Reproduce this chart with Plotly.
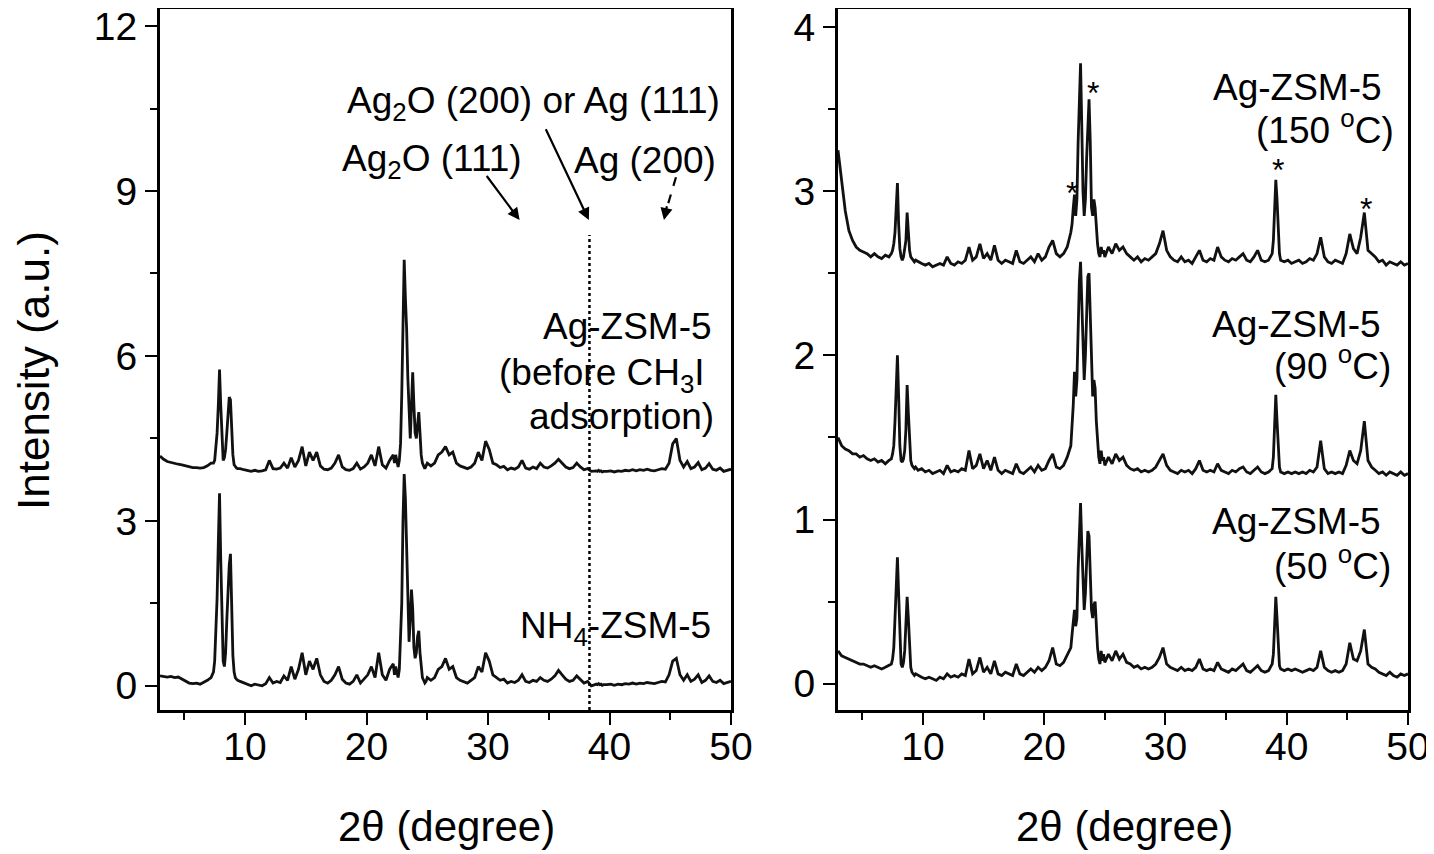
import plotly.graph_objects as go

# ---------------- data ----------------
two_theta = [
    3.0, 3.3, 3.6, 3.9, 4.2, 4.5, 4.8, 5.1, 5.4, 5.7, 6.0, 6.3, 6.6, 6.9, 7.2,
    7.4, 7.5, 7.6, 7.7, 7.8, 7.9, 8.0, 8.1, 8.2, 8.3, 8.4, 8.5, 8.6, 8.7, 8.8, 8.9, 9.0, 9.1, 9.2, 9.3, 9.4,
    9.6, 9.9, 10.2, 10.5, 10.8, 11.1, 11.4, 11.7, 12.0, 12.3, 12.6, 12.9, 13.2, 13.5, 13.8, 14.1, 14.4, 14.7, 15.0, 15.3,
    15.6, 15.9, 16.2, 16.5, 16.8, 17.1, 17.4, 17.7, 18.0, 18.3, 18.6, 18.9, 19.2, 19.5, 19.8, 20.1, 20.4, 20.7, 21.0, 21.3,
    21.6, 21.9, 22.2,
    22.3, 22.4, 22.5, 22.6, 22.7, 22.8, 22.9, 23.0, 23.1, 23.2, 23.3, 23.4, 23.5, 23.6, 23.7, 23.8, 23.9, 24.0, 24.1, 24.2,
    24.3, 24.4, 24.5, 24.6, 24.7, 24.8, 24.9, 25.0,
    25.3, 25.6, 25.9, 26.2, 26.5, 26.8, 27.1, 27.4, 27.7, 28.0, 28.3, 28.6, 28.9, 29.2, 29.5, 29.8, 30.1, 30.4, 30.7, 31.0,
    31.3, 31.6, 31.9, 32.2, 32.5, 32.8, 33.1, 33.4, 33.7, 34.0, 34.3, 34.6, 34.9, 35.2, 35.5, 35.8, 36.1, 36.4, 36.7, 37.0,
    37.3, 37.6, 37.9, 38.2, 38.5, 38.8,
    38.9, 39.0, 39.1, 39.2, 39.3, 39.4, 39.5,
    39.8, 40.1, 40.4, 40.7, 41.0, 41.3, 41.6, 41.9, 42.2, 42.5, 42.8, 43.1, 43.4, 43.7, 44.0, 44.3, 44.6, 44.9, 45.2, 45.5,
    45.8, 46.1, 46.4, 46.7, 47.0, 47.3, 47.6, 47.9, 48.2, 48.5, 48.8, 49.1, 49.4, 49.7, 50.0,
]

nh4_zsm5 = [
    0.18, 0.17, 0.16, 0.17, 0.15, 0.16, 0.12, 0.08, 0.05, 0.04, 0.05, 0.03, 0.06, 0.10, 0.15,
    0.25, 0.45, 0.9, 1.6, 2.6, 3.5, 2.3, 1.0, 0.45, 0.35, 0.6, 1.2, 1.9, 2.2, 2.4, 1.3, 0.55, 0.25, 0.15, 0.12, 0.10,
    0.08, 0.05, 0.02, 0.00, 0.03, 0.01, 0.00, 0.04, 0.15, 0.05, 0.08, 0.06, 0.18, 0.10, 0.35, 0.12, 0.30, 0.60, 0.20, 0.45,
    0.30, 0.50, 0.20, 0.08, 0.05, 0.10, 0.20, 0.35, 0.12, 0.05, 0.03, 0.08, 0.20, 0.05, 0.12, 0.20, 0.35, 0.15, 0.60, 0.20,
    0.10, 0.30, 0.40,
    0.20, 0.35, 0.25, 0.15, 0.30, 0.90, 1.50, 3.00, 3.85, 3.40, 2.60, 1.40, 0.80, 1.20, 1.75, 1.40, 0.70, 0.50, 0.60, 0.90,
    1.00, 0.60, 0.30, 0.15, 0.10, 0.05, 0.08, 0.15,
    0.10, 0.15, 0.30, 0.35, 0.50, 0.30, 0.35, 0.15, 0.10, 0.08, 0.05, 0.10, 0.15, 0.35, 0.25, 0.60, 0.45, 0.20, 0.15, 0.10,
    0.12, 0.05, 0.08, 0.06, 0.10, 0.20, 0.08, 0.06, 0.10, 0.08, 0.15, 0.10, 0.08, 0.12, 0.18, 0.28, 0.20, 0.12, 0.08, 0.10,
    0.18, 0.12, 0.05, 0.08, 0.00, 0.02,
    0.03, 0.02, 0.04, 0.02, 0.03, 0.01, 0.02,
    0.02, 0.03, 0.01, 0.03, 0.02, 0.04, 0.03, 0.05, 0.03, 0.05, 0.04, 0.06, 0.05, 0.04, 0.06, 0.08, 0.07, 0.20, 0.45, 0.50,
    0.20, 0.10, 0.20, 0.08, 0.12, 0.20, 0.06, 0.10, 0.18, 0.08, 0.06, 0.10, 0.04, 0.06, 0.08,
]

ag_before = [
    4.18, 4.12, 4.08, 4.06, 4.05, 4.03, 4.02, 4.00, 3.98, 3.97, 3.97, 3.96, 3.97, 4.00, 4.05,
    4.05, 4.10, 4.30, 4.60, 5.10, 5.75, 5.10, 4.40, 4.10, 4.15, 4.30, 4.60, 5.00, 5.25, 5.20, 4.60, 4.20, 4.02, 3.98, 3.96, 3.95,
    3.95, 3.93, 3.92, 3.90, 3.92, 3.90, 3.91, 3.93, 4.10, 3.95, 3.94, 3.96, 4.05, 3.96, 4.15, 3.98, 4.10, 4.35, 4.00, 4.25,
    4.10, 4.25, 4.00, 3.94, 3.93, 3.96, 4.05, 4.20, 3.98, 3.93, 3.92, 3.95, 4.05, 3.94, 3.98, 4.05, 4.20, 4.00, 4.35, 4.02,
    3.96, 4.10, 4.20,
    4.05, 4.20, 4.05, 3.98, 4.10, 4.40, 5.30, 6.60, 7.75, 7.05, 6.50, 5.60, 5.00, 4.50, 5.10, 5.70, 5.10, 4.60, 4.50, 4.80,
    4.98, 4.60, 4.20, 4.05, 3.98, 3.95, 4.00, 4.05,
    4.00, 4.05, 4.20, 4.25, 4.35, 4.20, 4.25, 4.05, 4.00, 3.97, 3.95, 3.98, 4.05, 4.25, 4.10, 4.45, 4.30, 4.05, 4.02, 3.97,
    3.99, 3.93, 3.96, 3.94, 3.98, 4.10, 3.96, 3.94, 3.98, 3.95, 4.05, 3.98, 3.96, 4.00, 4.05, 4.12, 4.05, 3.98, 3.95, 3.97,
    4.05, 3.98, 3.93, 3.95, 3.90, 3.91,
    3.91, 3.90, 3.92, 3.90, 3.91, 3.89, 3.90,
    3.90, 3.91, 3.89, 3.91, 3.90, 3.92, 3.91, 3.93, 3.91, 3.93, 3.92, 3.94, 3.92, 3.91, 3.93, 3.95, 3.94, 4.05, 4.40, 4.50,
    4.10, 3.98, 4.08, 3.95, 3.98, 4.06, 3.93, 3.96, 4.04, 3.94, 3.92, 3.96, 3.90, 3.92, 3.94,
]

ag_150 = [
    3.25, 3.05, 2.88, 2.76, 2.70, 2.66, 2.64, 2.63, 2.62, 2.60, 2.62, 2.60, 2.59, 2.61, 2.60,
    2.62, 2.64, 2.68, 2.75, 2.90, 3.05, 2.80, 2.65, 2.60, 2.58, 2.60, 2.64, 2.70, 2.87, 2.75, 2.64, 2.60, 2.59, 2.58, 2.57, 2.58,
    2.57, 2.56, 2.55, 2.56, 2.54, 2.55, 2.56, 2.55, 2.60, 2.56, 2.55, 2.57, 2.56, 2.58, 2.66, 2.58, 2.60, 2.68, 2.59, 2.62,
    2.58, 2.67, 2.58, 2.56, 2.58, 2.57, 2.56, 2.64, 2.57, 2.56, 2.58, 2.60, 2.57, 2.62, 2.58, 2.60, 2.66, 2.70, 2.62, 2.60,
    2.62, 2.66, 2.75,
    2.80, 2.90, 2.98, 2.85, 2.95, 3.30, 3.55, 3.78, 3.40, 3.00, 2.85, 2.95, 3.20, 3.45, 3.56, 3.30, 2.90, 2.85, 2.95, 2.90,
    2.75, 2.68, 2.62, 2.60, 2.66, 2.62, 2.64, 2.60,
    2.66, 2.62, 2.68, 2.64, 2.66, 2.62, 2.60, 2.58, 2.60, 2.57, 2.59, 2.58, 2.60, 2.62, 2.68, 2.76, 2.64, 2.60, 2.58, 2.57,
    2.60, 2.57, 2.58, 2.56, 2.60, 2.64, 2.58, 2.57, 2.59, 2.58, 2.66, 2.60, 2.58, 2.57, 2.59, 2.58, 2.60, 2.62, 2.58, 2.57,
    2.60, 2.64, 2.58, 2.57, 2.58, 2.62,
    2.70, 2.85, 3.07, 2.95, 2.72, 2.62, 2.58,
    2.57, 2.58, 2.56, 2.57, 2.58, 2.56, 2.57, 2.59, 2.58, 2.62, 2.72, 2.60, 2.57, 2.56, 2.58, 2.57, 2.56, 2.62, 2.74, 2.65,
    2.62, 2.72, 2.87, 2.64, 2.62, 2.60, 2.57, 2.58, 2.55, 2.57, 2.56, 2.55, 2.57, 2.55, 2.56,
]

ag_90 = [
    1.50, 1.45, 1.43, 1.42, 1.40, 1.40, 1.38, 1.39, 1.37, 1.36, 1.37, 1.35, 1.36, 1.34, 1.36,
    1.37, 1.40, 1.45, 1.60, 1.82, 2.00, 1.75, 1.45, 1.36, 1.35, 1.37, 1.42, 1.55, 1.82, 1.65, 1.45, 1.36, 1.33, 1.32, 1.31, 1.32,
    1.30, 1.31, 1.29, 1.30, 1.28, 1.29, 1.30, 1.28, 1.33, 1.29, 1.30, 1.29, 1.31, 1.30, 1.42, 1.31, 1.33, 1.40, 1.31, 1.36,
    1.30, 1.38, 1.30, 1.28, 1.30, 1.29, 1.28, 1.34, 1.29, 1.28, 1.30, 1.32, 1.29, 1.33, 1.30, 1.31, 1.36, 1.40, 1.32, 1.31,
    1.33, 1.38, 1.45,
    1.55, 1.70, 1.90, 1.75, 1.85, 2.20, 2.45, 2.57, 2.30, 2.05, 1.85, 2.00, 2.30, 2.48, 2.50, 2.20, 1.90, 1.75, 1.85, 1.80,
    1.60, 1.45, 1.38, 1.34, 1.42, 1.36, 1.38, 1.33,
    1.38, 1.34, 1.40, 1.36, 1.38, 1.33, 1.31, 1.30, 1.31, 1.29, 1.30, 1.29, 1.30, 1.32, 1.36, 1.40, 1.33, 1.30, 1.29, 1.28,
    1.30, 1.29, 1.30, 1.28, 1.31, 1.36, 1.30, 1.29, 1.30, 1.29, 1.34, 1.30, 1.29, 1.28, 1.30, 1.29, 1.31, 1.32, 1.29, 1.28,
    1.30, 1.32, 1.29, 1.28, 1.29, 1.31,
    1.38, 1.55, 1.76, 1.60, 1.40, 1.32, 1.29,
    1.28, 1.29, 1.28, 1.29, 1.28, 1.29, 1.28, 1.30, 1.29, 1.32, 1.48, 1.31, 1.28, 1.29, 1.28, 1.29, 1.28, 1.33, 1.42, 1.36,
    1.34, 1.42, 1.60, 1.36, 1.32, 1.30, 1.28, 1.29, 1.27, 1.29, 1.28, 1.27, 1.29, 1.27, 1.28,
]

ag_50 = [
    0.20, 0.17, 0.16, 0.15, 0.14, 0.13, 0.12, 0.12, 0.11, 0.10, 0.11, 0.10, 0.09, 0.10, 0.11,
    0.12, 0.15, 0.22, 0.40, 0.62, 0.77, 0.55, 0.25, 0.12, 0.10, 0.13, 0.20, 0.35, 0.53, 0.40, 0.20, 0.10, 0.07, 0.06, 0.05, 0.06,
    0.05, 0.04, 0.03, 0.04, 0.03, 0.02, 0.04, 0.03, 0.06, 0.04, 0.05, 0.04, 0.06, 0.05, 0.15, 0.06, 0.08, 0.16, 0.07, 0.10,
    0.06, 0.14, 0.06, 0.05, 0.07, 0.06, 0.05, 0.12, 0.06, 0.05, 0.07, 0.09, 0.07, 0.10, 0.08, 0.10, 0.14, 0.22, 0.12, 0.11,
    0.13, 0.18, 0.22,
    0.30, 0.38, 0.45, 0.35, 0.40, 0.70, 0.95, 1.10, 0.85, 0.60, 0.45, 0.55, 0.78, 0.93, 0.90, 0.65, 0.45, 0.40, 0.48, 0.50,
    0.35, 0.22, 0.15, 0.12, 0.20, 0.14, 0.18, 0.13,
    0.18, 0.14, 0.20, 0.15, 0.18, 0.13, 0.12, 0.10, 0.11, 0.09, 0.10, 0.09, 0.10, 0.12, 0.16, 0.22, 0.12, 0.10, 0.09, 0.08,
    0.10, 0.08, 0.09, 0.08, 0.10, 0.15, 0.09, 0.08, 0.09, 0.08, 0.13, 0.09, 0.08, 0.07, 0.09, 0.08, 0.10, 0.12, 0.08, 0.07,
    0.09, 0.11, 0.08, 0.07, 0.08, 0.12,
    0.18, 0.32, 0.53, 0.40, 0.20, 0.11, 0.09,
    0.08, 0.09, 0.08, 0.09, 0.08, 0.07, 0.08, 0.09, 0.08, 0.10, 0.20, 0.10, 0.08, 0.07, 0.08, 0.07, 0.08, 0.12, 0.25, 0.15,
    0.14, 0.20, 0.33, 0.12, 0.10, 0.09, 0.07, 0.06, 0.05, 0.07, 0.05, 0.04, 0.06, 0.05, 0.06,
]

for name, s in [("nh4", nh4_zsm5), ("before", ag_before), ("150", ag_150), ("90", ag_90), ("50", ag_50)]:
    assert len(s) == len(two_theta), (name, len(s), len(two_theta))

x_ticks = [10, 20, 30, 40, 50]
left_y_ticks = [0, 3, 6, 9, 12]
right_y_ticks = [0, 1, 2, 3, 4]
ag111_line_x = 38.35

# ---------------- figure ----------------
FONT = "Liberation Sans"
line_style = dict(color="#111111", width=2.8)

fig = go.Figure()
for ys in (nh4_zsm5, ag_before):
    fig.add_trace(go.Scatter(x=two_theta, y=ys, mode="lines", line=line_style,
                             xaxis="x", yaxis="y", showlegend=False, hoverinfo="skip"))
for ys in (ag_50, ag_90, ag_150):
    fig.add_trace(go.Scatter(x=two_theta, y=ys, mode="lines", line=line_style,
                             xaxis="x2", yaxis="y2", showlegend=False, hoverinfo="skip"))

# the page body adds an 8 px offset; size the figure so it fills the window exactly
OFF = 8
W, H = 1434 - OFF, 854 - OFF
def px_x(p): return (p - OFF) / W
def px_y(p): return 1 - (p - OFF) / H

PLOT_TOP = 9      # page pixel of the top frame line
PLOT_BOTTOM = 710

axis_common = dict(showline=True, linewidth=3, linecolor="black", mirror=True,
                   ticks="outside", ticklen=12, tickwidth=2.4, tickcolor="black",
                   showgrid=False, zeroline=False, automargin=False,
                   ticklabeloverflow="allow",
                   tickfont=dict(family=FONT, size=39, color="black"))

xaxis_common = dict(axis_common, range=[3, 50], tickvals=x_ticks, ticklabelstandoff=-12,
                    minor=dict(ticks="outside", ticklen=7, tickwidth=2.2, tickcolor="black",
                               tick0=0, dtick=5, showgrid=False))

fig.update_layout(
    width=W, height=H,
    margin=dict(l=0, r=0, t=0, b=0),
    paper_bgcolor="white", plot_bgcolor="white",
    font=dict(family=FONT, color="black"),
    xaxis=dict(xaxis_common, domain=[px_x(160), px_x(731)], anchor="y"),
    yaxis=dict(axis_common, domain=[px_y(PLOT_BOTTOM), px_y(PLOT_TOP)], anchor="x",
               range=[-0.44, 12.31], tickvals=left_y_ticks,
               minor=dict(ticks="outside", ticklen=7, tickwidth=2.2, tickcolor="black",
                          tick0=0, dtick=1.5, showgrid=False)),
    xaxis2=dict(xaxis_common, domain=[px_x(838), px_x(1408)], anchor="y2"),
    yaxis2=dict(axis_common, domain=[px_y(PLOT_BOTTOM), px_y(PLOT_TOP)], anchor="x2",
                range=[-0.16, 4.11], tickvals=right_y_ticks,
                minor=dict(ticks="outside", ticklen=7, tickwidth=2.2, tickcolor="black",
                           tick0=0, dtick=0.5, showgrid=False)),
)

# dotted reference line at Ag(111)/Ag2O(200)
fig.add_shape(type="line", xref="x", yref="y", x0=ag111_line_x, x1=ag111_line_x,
              y0=-0.44, y1=8.2, line=dict(color="black", width=2.5, dash="dot"))

ann = []
def txt(text, x, y, xref="x", yref="y", size=37, xanchor="right", angle=0):
    ann.append(dict(text=text, x=x, y=y, xref=xref, yref=yref, showarrow=False,
                    xanchor=xanchor, yanchor="middle", textangle=angle,
                    font=dict(family=FONT, size=size, color="black")))

# axis titles
txt("2θ (degree)", px_x(446), px_y(826), "paper", "paper", size=42, xanchor="center")
txt("2θ (degree)", px_x(1124), px_y(826), "paper", "paper", size=42, xanchor="center")
txt("Intensity (a.u.)", px_x(33), px_y(371), "paper", "paper", size=44, xanchor="center", angle=-90)

# left panel labels
txt("Ag<sub>2</sub>O (200) or Ag (111)", 49.25, 10.6)
txt("Ag<sub>2</sub>O (111)", 33.0, 9.55)
txt("Ag (200)", 48.9, 9.55)
txt("Ag-ZSM-5", 48.6, 6.53)
txt("(before CH<sub>3</sub>I", 48.0, 5.65)
txt("adsorption)", 48.75, 4.89)
txt("NH<sub>4</sub>-ZSM-5", 48.5, 1.05)

# right panel labels
txt("Ag-ZSM-5", 48.0, 3.63, "x2", "y2")
txt("(150 <sup>o</sup>C)", 49.0, 3.39, "x2", "y2")
txt("Ag-ZSM-5", 47.9, 2.19, "x2", "y2")
txt("(90 <sup>o</sup>C)", 48.8, 1.95, "x2", "y2")
txt("Ag-ZSM-5", 47.9, 0.99, "x2", "y2")
txt("(50 <sup>o</sup>C)", 48.8, 0.73, "x2", "y2")

# asterisks
for ax_, ay_ in [(22.3, 2.99), (24.0, 3.6), (39.3, 3.13), (46.5, 2.89)]:
    txt("*", ax_, ay_, "x2", "y2", size=32, xanchor="center")

# arrows
arrow = dict(showarrow=True, arrowhead=2, arrowsize=1.1, arrowwidth=2.2, arrowcolor="black",
             text="", xref="x", yref="y", axref="x", ayref="y")
ann.append(dict(arrow, x=32.6, y=8.47, ax=29.8, ay=9.3))
ann.append(dict(arrow, x=38.3, y=8.47, ax=34.7, ay=10.15))
# dashed arrow: dashed shaft + arrow head
fig.add_shape(type="line", xref="x", yref="y", x0=45.47, y0=9.25, x1=44.6, y1=8.6,
              line=dict(color="black", width=2.2, dash="dash"))
ann.append(dict(arrow, x=44.48, y=8.47, ax=44.75, ay=8.75))

fig.update_layout(annotations=ann)

fig.write_html("out.html")
